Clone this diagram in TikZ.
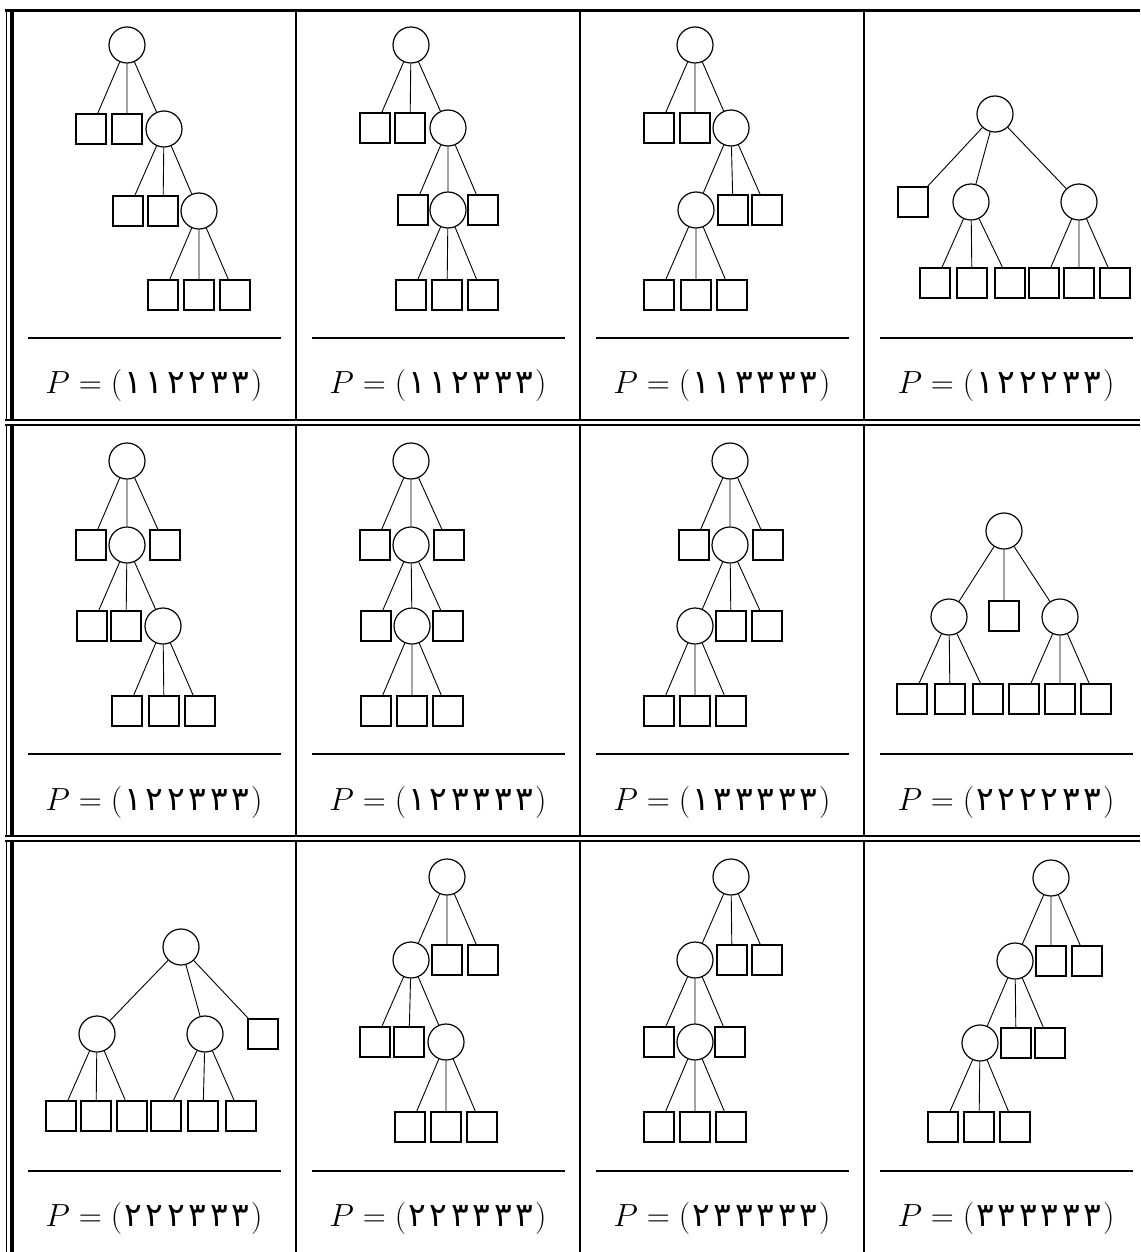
\RequirePackage{fix-cm}
\documentclass[tikz,border=0pt]{standalone}
\usepackage{fontspec}
\newfontfamily\pdig[Script=Arabic]{DejaVu Sans}
\newcommand\dg[1]{\makebox[21.5pt]{\pdig\fontsize{33}{36}\selectfont #1}}
\newcommand\seqd[6]{\dg{#1}\dg{#2}\dg{#3}\dg{#4}\dg{#5}\dg{#6}}
\tikzset{
  inn/.style={circle,draw,line width=1.2pt,minimum size=36pt,inner sep=0pt},
  lf/.style={rectangle,draw,line width=1.2pt,minimum size=30pt,inner sep=0pt},
  conn/.style={line width=0.9pt},
  lab/.style={anchor=base,inner sep=0pt,font=\fontsize{32}{36}\selectfont},
  rulel/.style={line width=2pt},
}
\newcommand\edges[3]{\draw[conn] (#1r)--(#1a) (#1r)--(#1b) (#1r)--(#1c)
  (#1#2)--(#1d) (#1#2)--(#1e) (#1#2)--(#1f)
  (#1#3)--(#1g) (#1#3)--(#1h) (#1#3)--(#1i);}
\begin{document}
\begin{tikzpicture}[x=1pt,y=-1pt]
\useasboundingbox (0,0) rectangle (1140,1252);
% ---------- grid ----------
\draw[line width=3pt] (5,10.5) -- (1140,10.5);
\foreach \yy in {420,425,836,841} {\draw[line width=2pt] (5,\yy) -- (1140,\yy);}
\foreach \ya/\yb in {9/421,424/837,840/1252} {
  \draw[line width=1.4pt] (6.5,\ya) -- (6.5,\yb);
  \draw[line width=3.5pt] (12,\ya) -- (12,\yb);
  \draw[line width=2pt] (296,\ya) -- (296,\yb);
  \draw[line width=2pt] (580,\ya) -- (580,\yb);
  \draw[line width=2.7pt] (864,\ya) -- (864,\yb);
}
\foreach \ry in {338,754,1171} {
  \foreach \cx in {154,438,722,1006} {\draw[rulel] (\cx-126.5,\ry) -- (\cx+126.5,\ry);}
}
% ---------- row 1 ----------
\node[inn] (t11r) at (127,45) {};
\node[lf] (t11a) at (91,129) {};
\node[lf] (t11b) at (127,129) {};
\node[inn] (t11c) at (164,129) {};
\node[lf] (t11d) at (128,211) {};
\node[lf] (t11e) at (163,211) {};
\node[inn] (t11f) at (199,211) {};
\node[lf] (t11g) at (163,295) {};
\node[lf] (t11h) at (199,295) {};
\node[lf] (t11i) at (235,295) {};
\edges{t11}{c}{f}

\node[inn] (t12r) at (411,45) {};
\node[lf] (t12a) at (375,128) {};
\node[lf] (t12b) at (410,128) {};
\node[inn] (t12c) at (448,128) {};
\node[lf] (t12d) at (413,210) {};
\node[inn] (t12e) at (448,210) {};
\node[lf] (t12f) at (483,210) {};
\node[lf] (t12g) at (411,295) {};
\node[lf] (t12h) at (447,295) {};
\node[lf] (t12i) at (483,295) {};
\edges{t12}{c}{e}

\node[inn] (t13r) at (695,45) {};
\node[lf] (t13a) at (659,128) {};
\node[lf] (t13b) at (695,128) {};
\node[inn] (t13c) at (731,128) {};
\node[inn] (t13d) at (696,210) {};
\node[lf] (t13e) at (733,210) {};
\node[lf] (t13f) at (767,210) {};
\node[lf] (t13g) at (659,295) {};
\node[lf] (t13h) at (696,295) {};
\node[lf] (t13i) at (732,295) {};
\edges{t13}{c}{d}

\node[inn] (t14r) at (995,114) {};
\node[lf] (t14a) at (913,202) {};
\node[inn] (t14b) at (971,202) {};
\node[inn] (t14c) at (1079,202) {};
\node[lf] (t14d) at (935,283) {};
\node[lf] (t14e) at (972,283) {};
\node[lf] (t14f) at (1010,283) {};
\node[lf] (t14g) at (1044,283) {};
\node[lf] (t14h) at (1079,283) {};
\node[lf] (t14i) at (1115,283) {};
\edges{t14}{b}{c}

% ---------- row 2 ----------
\node[inn] (t21r) at (127,461) {};
\node[lf] (t21a) at (91,545) {};
\node[inn] (t21b) at (127,545) {};
\node[lf] (t21c) at (165,545) {};
\node[lf] (t21d) at (92,626) {};
\node[lf] (t21e) at (126,626) {};
\node[inn] (t21f) at (163,626) {};
\node[lf] (t21g) at (127,711) {};
\node[lf] (t21h) at (164,711) {};
\node[lf] (t21i) at (200,711) {};
\edges{t21}{b}{f}

\node[inn] (t22r) at (411,461) {};
\node[lf] (t22a) at (375,545) {};
\node[inn] (t22b) at (411,545) {};
\node[lf] (t22c) at (449,545) {};
\node[lf] (t22d) at (376,626) {};
\node[inn] (t22e) at (412,626) {};
\node[lf] (t22f) at (448,626) {};
\node[lf] (t22g) at (376,711) {};
\node[lf] (t22h) at (412,711) {};
\node[lf] (t22i) at (448,711) {};
\edges{t22}{b}{e}

\node[inn] (t23r) at (730,461) {};
\node[lf] (t23a) at (694,545) {};
\node[inn] (t23b) at (730,545) {};
\node[lf] (t23c) at (768,545) {};
\node[inn] (t23d) at (695,626) {};
\node[lf] (t23e) at (731,626) {};
\node[lf] (t23f) at (767,626) {};
\node[lf] (t23g) at (659,711) {};
\node[lf] (t23h) at (695,711) {};
\node[lf] (t23i) at (731,711) {};
\edges{t23}{b}{d}

\node[inn] (t24r) at (1004,531) {};
\node[inn] (t24a) at (949,617) {};
\node[lf] (t24b) at (1004,616) {};
\node[inn] (t24c) at (1060,617) {};
\node[lf] (t24d) at (912,699) {};
\node[lf] (t24e) at (950,699) {};
\node[lf] (t24f) at (988,699) {};
\node[lf] (t24g) at (1024,699) {};
\node[lf] (t24h) at (1060,699) {};
\node[lf] (t24i) at (1096,699) {};
\edges{t24}{a}{c}

% ---------- row 3 ----------
\node[inn] (t31r) at (181,947) {};
\node[inn] (t31a) at (97,1034) {};
\node[inn] (t31b) at (205,1034) {};
\node[lf] (t31c) at (263,1034) {};
\node[lf] (t31d) at (61,1116) {};
\node[lf] (t31e) at (96,1116) {};
\node[lf] (t31f) at (132,1116) {};
\node[lf] (t31g) at (166,1116) {};
\node[lf] (t31h) at (203,1116) {};
\node[lf] (t31i) at (241,1116) {};
\edges{t31}{a}{b}

\node[inn] (t32r) at (447,877) {};
\node[inn] (t32a) at (411,960) {};
\node[lf] (t32b) at (447,960) {};
\node[lf] (t32c) at (483,960) {};
\node[lf] (t32d) at (375,1042) {};
\node[lf] (t32e) at (409,1042) {};
\node[inn] (t32f) at (446,1042) {};
\node[lf] (t32g) at (410,1127) {};
\node[lf] (t32h) at (446,1127) {};
\node[lf] (t32i) at (482,1127) {};
\edges{t32}{a}{f}

\node[inn] (t33r) at (731,877) {};
\node[inn] (t33a) at (695,960) {};
\node[lf] (t33b) at (732,960) {};
\node[lf] (t33c) at (767,960) {};
\node[lf] (t33d) at (659,1042) {};
\node[inn] (t33e) at (695,1042) {};
\node[lf] (t33f) at (730,1042) {};
\node[lf] (t33g) at (659,1127) {};
\node[lf] (t33h) at (695,1127) {};
\node[lf] (t33i) at (731,1127) {};
\edges{t33}{a}{e}

\node[inn] (t34r) at (1051,878) {};
\node[inn] (t34a) at (1015,961) {};
\node[lf] (t34b) at (1051,961) {};
\node[lf] (t34c) at (1087,961) {};
\node[inn] (t34d) at (980,1043) {};
\node[lf] (t34e) at (1016,1043) {};
\node[lf] (t34f) at (1050,1043) {};
\node[lf] (t34g) at (943,1127) {};
\node[lf] (t34h) at (979,1127) {};
\node[lf] (t34i) at (1015,1127) {};
\edges{t34}{a}{d}

% ---------- labels ----------
\node[lab] (p11) at (154,393) {$P=(\seqd{۱}{۱}{۲}{۲}{۳}{۳})$};
\node[lab] (p12) at (438,393) {$P=(\seqd{۱}{۱}{۲}{۳}{۳}{۳})$};
\node[lab] (p13) at (722,393) {$P=(\seqd{۱}{۱}{۳}{۳}{۳}{۳})$};
\node[lab] (p14) at (1006,393) {$P=(\seqd{۱}{۲}{۲}{۲}{۳}{۳})$};
\node[lab] (p21) at (154,810) {$P=(\seqd{۱}{۲}{۲}{۳}{۳}{۳})$};
\node[lab] (p22) at (438,810) {$P=(\seqd{۱}{۲}{۳}{۳}{۳}{۳})$};
\node[lab] (p23) at (722,810) {$P=(\seqd{۱}{۳}{۳}{۳}{۳}{۳})$};
\node[lab] (p24) at (1006,810) {$P=(\seqd{۲}{۲}{۲}{۲}{۳}{۳})$};
\node[lab] (p31) at (154,1226) {$P=(\seqd{۲}{۲}{۲}{۳}{۳}{۳})$};
\node[lab] (p32) at (438,1226) {$P=(\seqd{۲}{۲}{۳}{۳}{۳}{۳})$};
\node[lab] (p33) at (722,1226) {$P=(\seqd{۲}{۳}{۳}{۳}{۳}{۳})$};
\node[lab] (p34) at (1006,1226) {$P=(\seqd{۳}{۳}{۳}{۳}{۳}{۳})$};
\end{tikzpicture}
\end{document}
